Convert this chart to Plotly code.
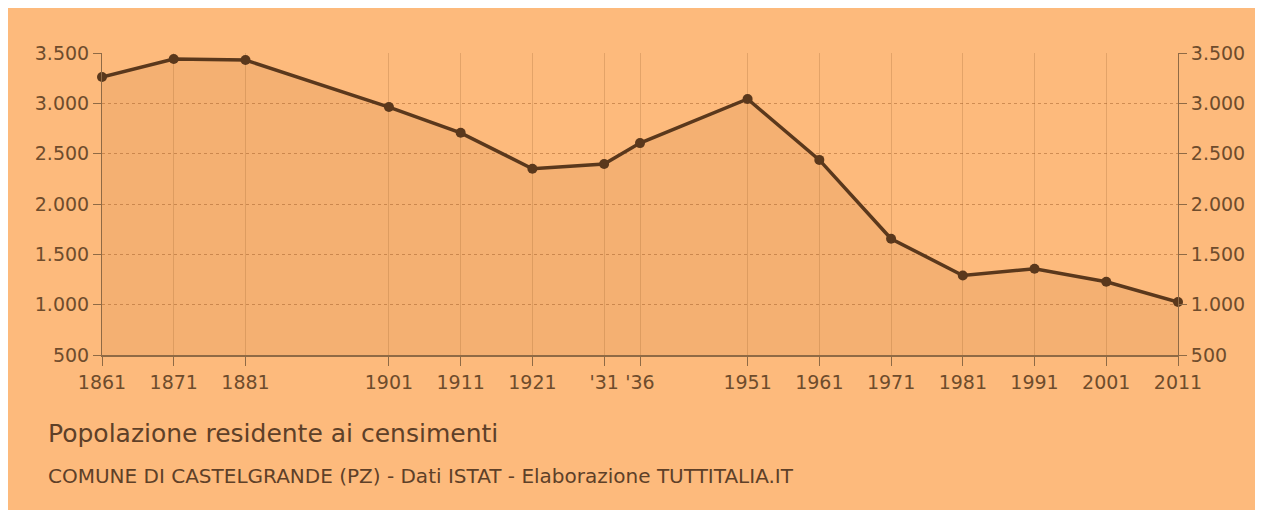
import plotly.graph_objects as go

years = [1861, 1871, 1881, 1901, 1911, 1921, 1931, 1936, 1951, 1961, 1971, 1981, 1991, 2001, 2011]
population = [3262, 3440, 3430, 2963, 2707, 2350, 2398, 2605, 3043, 2438, 1655, 1290, 1356, 1228, 1027]
year_labels = ["1861", "1871", "1881", "1901", "1911", "1921", "'31", "'36", "1951", "1961",
               "1971", "1981", "1991", "2001", "2011"]
y_ticks = [500, 1000, 1500, 2000, 2500, 3000, 3500]
y_labels = ["500", "1.000", "1.500", "2.000", "2.500", "3.000", "3.500"]

# page is offset by the 8px body margin
OFF = 8
W, H = 1263, 510
L, R, T, B = 102 - OFF, 1263 - (1178 - OFF), 53 - OFF, 510 - (355 - OFF)
pw, ph = W - L - R, H - T - B

def px_x(p):
    return (p - OFF - L) / pw

def px_y(p):
    return (H - B - (p - OFF)) / ph

BG = "#FDBA7C"
LINE = "#5A381C"
TXT = "#6E4C2C"
AX = "#8F6A45"
FONT = "DejaVu Sans, Liberation Sans, sans-serif"

fig = go.Figure()
fig.add_trace(go.Scatter(
    x=years, y=population, mode="lines+markers",
    line=dict(color=LINE, width=3.5),
    marker=dict(color=LINE, size=10),
    fill="tozeroy", fillcolor="rgba(170,100,40,0.11)",
    cliponaxis=False, showlegend=False, hoverinfo="x+y",
))
fig.add_trace(go.Scatter(x=[years[0]], y=[population[0]], yaxis="y2", mode="markers",
                         marker=dict(opacity=0), showlegend=False, hoverinfo="skip"))

fig.update_layout(
    width=W, height=H,
    margin=dict(l=L, r=R, t=T, b=B),
    paper_bgcolor=BG, plot_bgcolor="rgba(0,0,0,0)",
    font=dict(family=FONT, color=TXT),
    xaxis=dict(
        range=[1861, 2011], tickvals=years, ticktext=year_labels,
        showgrid=True, gridcolor="rgba(150,95,45,0.25)", gridwidth=1,
        showline=True, linecolor=AX, linewidth=2,
        ticks="outside", ticklen=9, tickcolor=AX, tickwidth=1,
        tickfont=dict(size=19, color=TXT, family=FONT), zeroline=False,
    ),
    yaxis=dict(
        range=[500, 3500], tickvals=y_ticks, ticktext=y_labels,
        showgrid=True, gridcolor="rgba(150,85,30,0.45)", griddash="dot", gridwidth=1,
        showline=True, linecolor=AX, linewidth=1,
        ticks="outside", ticklen=8, tickcolor=AX, tickwidth=1,
        tickfont=dict(size=19, color=TXT, family=FONT), zeroline=False,
    ),
    yaxis2=dict(
        range=[500, 3500], tickvals=y_ticks, ticktext=y_labels,
        overlaying="y", side="right", showgrid=False,
        showline=True, linecolor=AX, linewidth=1,
        ticks="outside", ticklen=8, tickcolor=AX, tickwidth=1,
        tickfont=dict(size=19, color=TXT, family=FONT), zeroline=False,
    ),
    annotations=[
        dict(text="Popolazione residente ai censimenti", xref="paper", yref="paper",
             x=px_x(46), y=px_y(433), xanchor="left", yanchor="middle", showarrow=False,
             font=dict(size=25, color="#5E4028", family=FONT)),
        dict(text="COMUNE DI CASTELGRANDE (PZ) - Dati ISTAT - Elaborazione TUTTITALIA.IT",
             xref="paper", yref="paper", x=px_x(46), y=px_y(476), xanchor="left",
             yanchor="middle", showarrow=False,
             font=dict(size=20, color="#5E4028", family=FONT)),
    ],
)

fig.write_html("out.html")
